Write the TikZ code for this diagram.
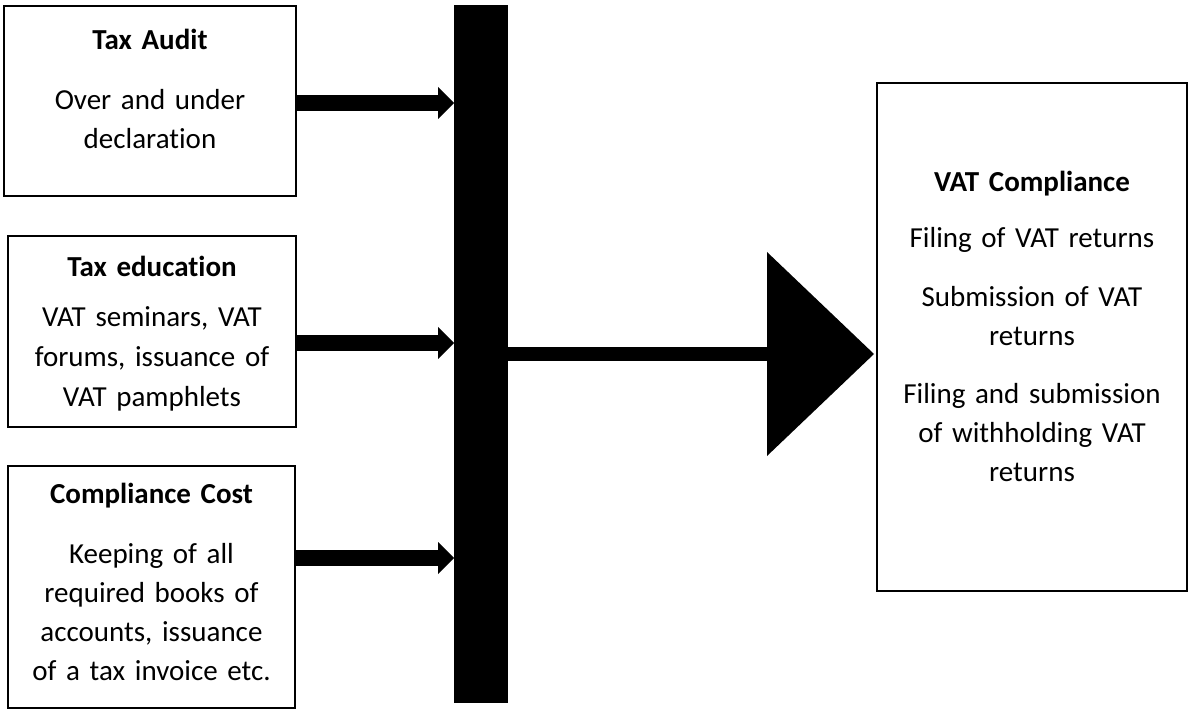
\documentclass[tikz,border=0pt]{standalone}
\usepackage{fontspec}
\setmainfont{Carlito}[Ligatures=NoCommon]
\usepackage{tikz}
\usetikzlibrary{arrows.meta,positioning,calc}

\tikzset{
  factorbox/.style={draw, line width=1pt, inner sep=0pt, align=center,
    anchor=north west, font=\fontsize{14.5pt}{19.5pt}\selectfont},
  joinbar/.style={fill=black, inner sep=0pt, outer sep=0pt},
  thinarrow/.style={line width=8pt,
    -{Triangle[length=8pt,width=16pt,line width=0pt]}},
  bigarrow/.style={line width=7pt,
    -{Triangle[length=53.5pt,width=102pt,line width=0pt]}}
}

\begin{document}
\begin{tikzpicture}[x=0.5pt,y=-0.5pt]
\useasboundingbox (0,0) rectangle (1189,711);
\node[factorbox, text width=146pt, text height=22pt, text depth=73pt] (audit) at (3,5)
  {\textbf{Tax Audit}\\[10.5pt]Over and under\\declaration};
\node[factorbox, font=\fontsize{14.5pt}{20pt}\selectfont,
  text width=144pt, text height=20.5pt, text depth=75pt] (edu) at (7,235)
  {\textbf{Tax education}\\[5pt]VAT seminars, VAT\\forums, issuance of\\VAT pamphlets};
\node[factorbox, text width=143.5pt, text height=18.5pt, text depth=102.5pt] (cost) at (7,465)
  {\textbf{Compliance Cost}\\[10.5pt]Keeping of all\\required books of\\accounts, issuance\\of a tax invoice etc.};
\node[joinbar, minimum width=27pt, minimum height=349pt] (bar) at (481,354) {};
\node[factorbox, text width=155pt, text height=54.5pt, text depth=199.5pt] (vat) at (876,82)
  {\textbf{VAT Compliance}\\[8.5pt]Filing of VAT returns\\[10pt]Submission of VAT\\returns\\[9.5pt]Filing and submission\\of withholding VAT\\returns};

\coordinate (a1) at ([yshift=-1pt]audit.east);
\coordinate (a2) at ([yshift=-5.75pt]edu.east);
\coordinate (a3) at ([yshift=14.5pt]cost.east);
\draw[thinarrow] (a1) -- (a1 -| bar.west);
\draw[thinarrow] (a2) -- (a2 -| bar.west);
\draw[thinarrow] (a3) -- (a3 -| bar.west);
\draw[bigarrow, shorten >=1pt] (bar.east) -- (bar.east -| vat.west);
\end{tikzpicture}
\end{document}
